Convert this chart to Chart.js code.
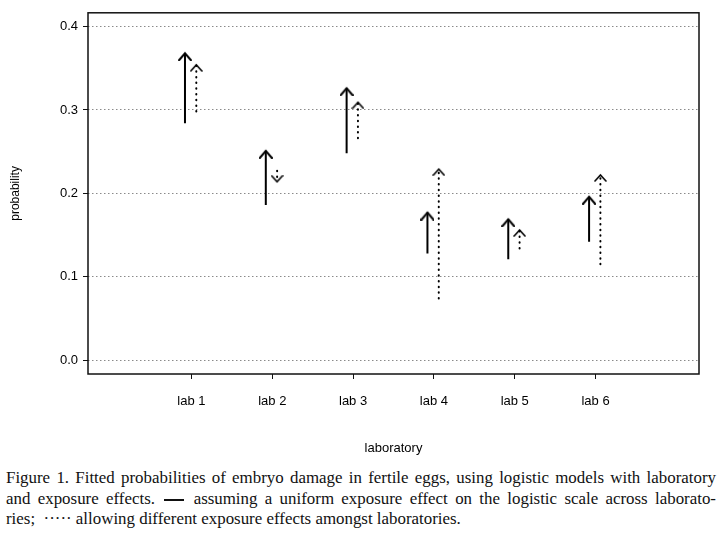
<!DOCTYPE html>
<html>
<head>
<meta charset="utf-8">
<script src="https://cdn.jsdelivr.net/npm/chart.js@4/dist/chart.umd.min.js"></script>
<style>
  html, body { margin: 0; padding: 0; background: #fff; }
  #wrap { position: absolute; left: 0; top: 0; width: 720px; height: 460px; }
  #caption {
    position: absolute; left: 6px; top: 468px; width: 710px;
    font-family: "Liberation Serif", "Times New Roman", serif;
    font-size: 16.9px; line-height: 20.5px; color: #111;
  }
  #caption .j { text-align: justify; text-align-last: justify; white-space: nowrap; }
  .solidKey { display: inline-block; width: 20px; border-top: 2px solid #111; vertical-align: middle; margin: 0 2px; }
</style>
</head>
<body>
<div id="wrap"><canvas id="chart"></canvas></div>
<div id="caption">
  <div class="j">Figure 1. Fitted probabilities of embryo damage in fertile eggs, using logistic models with laboratory</div>
  <div class="j">and exposure effects. <span class="solidKey"></span> assuming a uniform exposure effect on the logistic scale across laborato-</div>
  <div>ries; &nbsp;····· allowing different exposure effects amongst laboratories.</div>
</div>
<script>
// labs along the x axis
const labs = ['lab 1', 'lab 2', 'lab 3', 'lab 4', 'lab 5', 'lab 6'];
const yTicks = [0.0, 0.1, 0.2, 0.3, 0.4];

// uniform exposure effect (solid arrows): from -> to
const uniformFrom = [0.284, 0.186, 0.248, 0.128, 0.121, 0.142];
const uniformTo   = [0.368, 0.251, 0.326, 0.177, 0.169, 0.196];

// different exposure effects (dotted arrows): from -> to
const separateFrom = [0.298, 0.227, 0.266, 0.074, 0.134, 0.115];
const separateTo   = [0.354, 0.214, 0.309, 0.229, 0.156, 0.222];

// small chevron used as arrow head, tip at the centre of the canvas
function makeHead(w, h, lw) {
  const c = document.createElement('canvas');
  c.width = w;
  c.height = h * 2 + 2;
  const g = c.getContext('2d');
  g.strokeStyle = '#000';
  g.lineWidth = lw;
  g.lineCap = 'round';
  g.lineJoin = 'miter';
  const cy = c.height / 2;
  g.beginPath();
  g.moveTo(1, cy + h);
  g.lineTo(w / 2, cy);
  g.lineTo(w - 1, cy + h);
  g.stroke();
  return c;
}
const solidHead = makeHead(14, 7, 2);
const dottedHead = makeHead(13, 6, 1.6);

function arrowSet(from, to, shift, head, dotted) {
  return from.map((v, i) => ({
    type: 'line',
    data: [{ x: i + 1 + shift, y: v }, { x: i + 1 + shift, y: to[i] }],
    borderColor: '#000',
    borderWidth: 2,
    borderDash: dotted ? [0.5, 5.2] : [],
    borderCapStyle: dotted ? 'round' : 'butt',
    pointRadius: 4,
    pointStyle: c => c.dataIndex === 1 ? head : false,
    rotation: to[i] < v ? 180 : 0,
    fill: false,
    tension: 0
  }));
}

const datasets = [
  ...arrowSet(uniformFrom, uniformTo, -0.08, solidHead, false),
  ...arrowSet(separateFrom, separateTo, 0.06, dottedHead, true)
];

const framePlugin = {
  id: 'frame',
  afterDraw(chart) {
    const a = chart.chartArea;
    const ctx = chart.ctx;
    ctx.save();
    ctx.strokeStyle = '#111';
    ctx.lineWidth = 1.5;
    ctx.strokeRect(a.left, a.top, a.right - a.left, a.bottom - a.top);
    ctx.restore();
  }
};

new Chart(document.getElementById('chart'), {
  type: 'line',
  data: { datasets: datasets },
  options: {
    responsive: true,
    maintainAspectRatio: false,
    animation: false,
    layout: { padding: { left: 0, right: 21, top: 5, bottom: 0 } },
    plugins: { legend: { display: false }, tooltip: { enabled: false } },
    scales: {
      x: {
        type: 'linear',
        min: -0.28,
        max: 7.28,
        afterBuildTicks: s => { s.ticks = labs.map((l, i) => ({ value: i + 1 })); },
        afterFit: s => { s.height = 86; },
        ticks: {
          callback: v => labs[v - 1],
          color: '#000',
          font: { family: 'Liberation Sans', size: 13 },
          padding: 15,
          maxRotation: 0,
          autoSkip: false
        },
        grid: { drawOnChartArea: false, tickLength: 5, tickColor: '#111', tickWidth: 1 },
        border: { display: false },
        title: {
          display: true,
          text: 'laboratory',
          color: '#000',
          font: { family: 'Liberation Sans', size: 13 },
          padding: { top: 0, bottom: 4 }
        }
      },
      y: {
        type: 'linear',
        min: -0.0164,
        max: 0.4164,
        afterBuildTicks: s => { s.ticks = yTicks.map(v => ({ value: v })); },
        afterFit: s => { s.width = 88; },
        ticks: {
          callback: v => v.toFixed(1),
          color: '#000',
          font: { family: 'Liberation Sans', size: 13 },
          padding: 5
        },
        grid: { color: '#8a8a8a', lineWidth: 1, tickLength: 5, tickColor: '#111', tickWidth: 1, tickBorderDash: [] },
        border: { display: false, dash: [1.5, 2.5] },
        title: {
          display: true,
          text: 'probability',
          color: '#000',
          font: { family: 'Liberation Sans', size: 12 },
          padding: { top: 8, bottom: 0 }
        }
      }
    }
  },
  plugins: [framePlugin]
});
</script>
</body>
</html>
